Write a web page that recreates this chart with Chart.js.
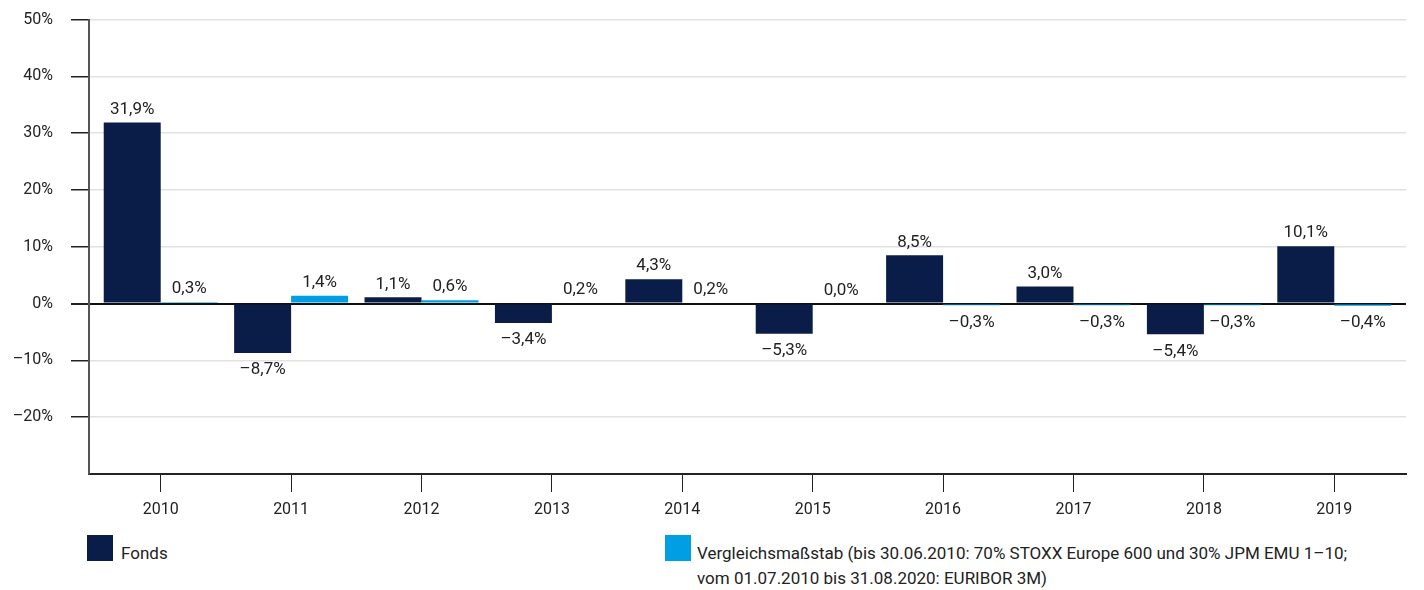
<!DOCTYPE html>
<html>
<head>
<meta charset="utf-8">
<script src="https://cdn.jsdelivr.net/npm/chart.js@4/dist/chart.umd.min.js"></script>
<style>
    body { margin: 0; background: #fff; font-family: Roboto, sans-serif; color: #222; overflow: hidden; }
    #wrap { position: absolute; left: 0; top: -8px; width: 1424px; height: 539px; }
    .legend-box { position: absolute; width: 26px; height: 26px; top: 535px; }
    .legend-text { position: absolute; font-size: 17px; line-height: 25px; top: 541px; }
</style>
</head>
<body>
<div id="wrap"><canvas id="perfChart"></canvas></div>
<div class="legend-box" style="left:87px;background:#0a1c48"></div>
<div class="legend-text" style="left:121px">Fonds</div>
<div class="legend-box" style="left:665px;background:#009fe3"></div>
<div class="legend-text" style="left:697px">Vergleichsmaßstab (bis 30.06.2010: 70% STOXX Europe 600 und 30% JPM EMU 1–10;<br>vom 01.07.2010 bis 31.08.2020: EURIBOR 3M)</div>
<script>
const years = ['2010', '2011', '2012', '2013', '2014', '2015', '2016', '2017', '2018', '2019'];
const fondsValues = [31.9, -8.7, 1.1, -3.4, 4.3, -5.3, 8.5, 3.0, -5.4, 10.1];
const benchmarkValues = [0.3, 1.4, 0.6, 0.2, 0.2, 0.0, -0.3, -0.3, -0.3, -0.4];
const yTicks = [50, 40, 30, 20, 10, 0, -10, -20];

function fmt(v) {
    const s = Math.abs(v).toFixed(1).replace('.', ',') + '%';
    return v < 0 ? '–' + s : s;
}

// value labels above / below each bar
const barLabels = {
    id: 'barLabels',
    afterDatasetsDraw(chart) {
        const ctx = chart.ctx;
        ctx.save();
        ctx.font = '17px Roboto, sans-serif';
        ctx.fillStyle = '#222';
        ctx.textAlign = 'center';
        ctx.textBaseline = 'middle';
        chart.data.datasets.forEach((ds, i) => {
            chart.getDatasetMeta(i).data.forEach((bar, j) => {
                const v = ds.data[j].y;
                const y = v < 0 ? bar.y + 17 : bar.y - 13;
                ctx.fillText(fmt(v), bar.x, y);
            });
        });
        ctx.restore();
    }
};

const ctx = document.getElementById('perfChart');
new Chart(ctx, {
    type: 'bar',
    data: {
        datasets: [{
            label: 'Fonds',
            data: fondsValues.map((v, i) => ({ x: i, y: v })),
            backgroundColor: '#0a1c48',
            barPercentage: 1,
            categoryPercentage: 0.874
        }, {
            label: 'Vergleichsmaßstab',
            data: benchmarkValues.map((v, i) => ({ x: i, y: v })),
            backgroundColor: '#009fe3',
            barPercentage: 1,
            categoryPercentage: 0.874
        }]
    },
    options: {
        responsive: true,
        maintainAspectRatio: false,
        animation: false,
        layout: { padding: { top: 11, right: 18, left: 0, bottom: 0 } },
        plugins: {
            legend: { display: false },
            tooltip: { enabled: false }
        },
        scales: {
            x: {
                type: 'linear',
                min: -0.55,
                max: 9.55,
                offset: false,
                afterFit(scale) { scale.height = 57; },
                border: { color: '#222', width: 2 },
                grid: {
                    offset: false,
                    drawOnChartArea: false,
                    tickLength: 18,
                    color: '#222'
                },
                ticks: {
                    stepSize: 1,
                    includeBounds: false,
                    padding: 8,
                    color: '#222',
                    font: { family: 'Roboto', size: 16 },
                    callback: (v) => years[v] !== undefined && Number.isInteger(v) ? years[v] : ''
                }
            },
            y: {
                min: -30,
                max: 50,
                afterFit(scale) { scale.width = 89; },
                border: { color: '#555', width: 2 },
                grid: {
                    tickLength: 18,
                    lineWidth: (c) => c.tick && c.tick.value === 0 ? 2 : 1.5,
                    color: (c) => c.tick && c.tick.value === 0 ? '#111' : '#e2e2e2',
                    tickColor: (c) => c.tick && c.tick.value === -30 ? 'rgba(0,0,0,0)' : '#222'
                },
                ticks: {
                    stepSize: 10,
                    padding: 18,
                    color: '#222',
                    font: { family: 'Roboto', size: 16 },
                    callback: (v) => yTicks.includes(v) ? fmt(v).replace(',0', '') : ''
                }
            }
        }
    },
    plugins: [barLabels]
});
</script>
</body>
</html>
